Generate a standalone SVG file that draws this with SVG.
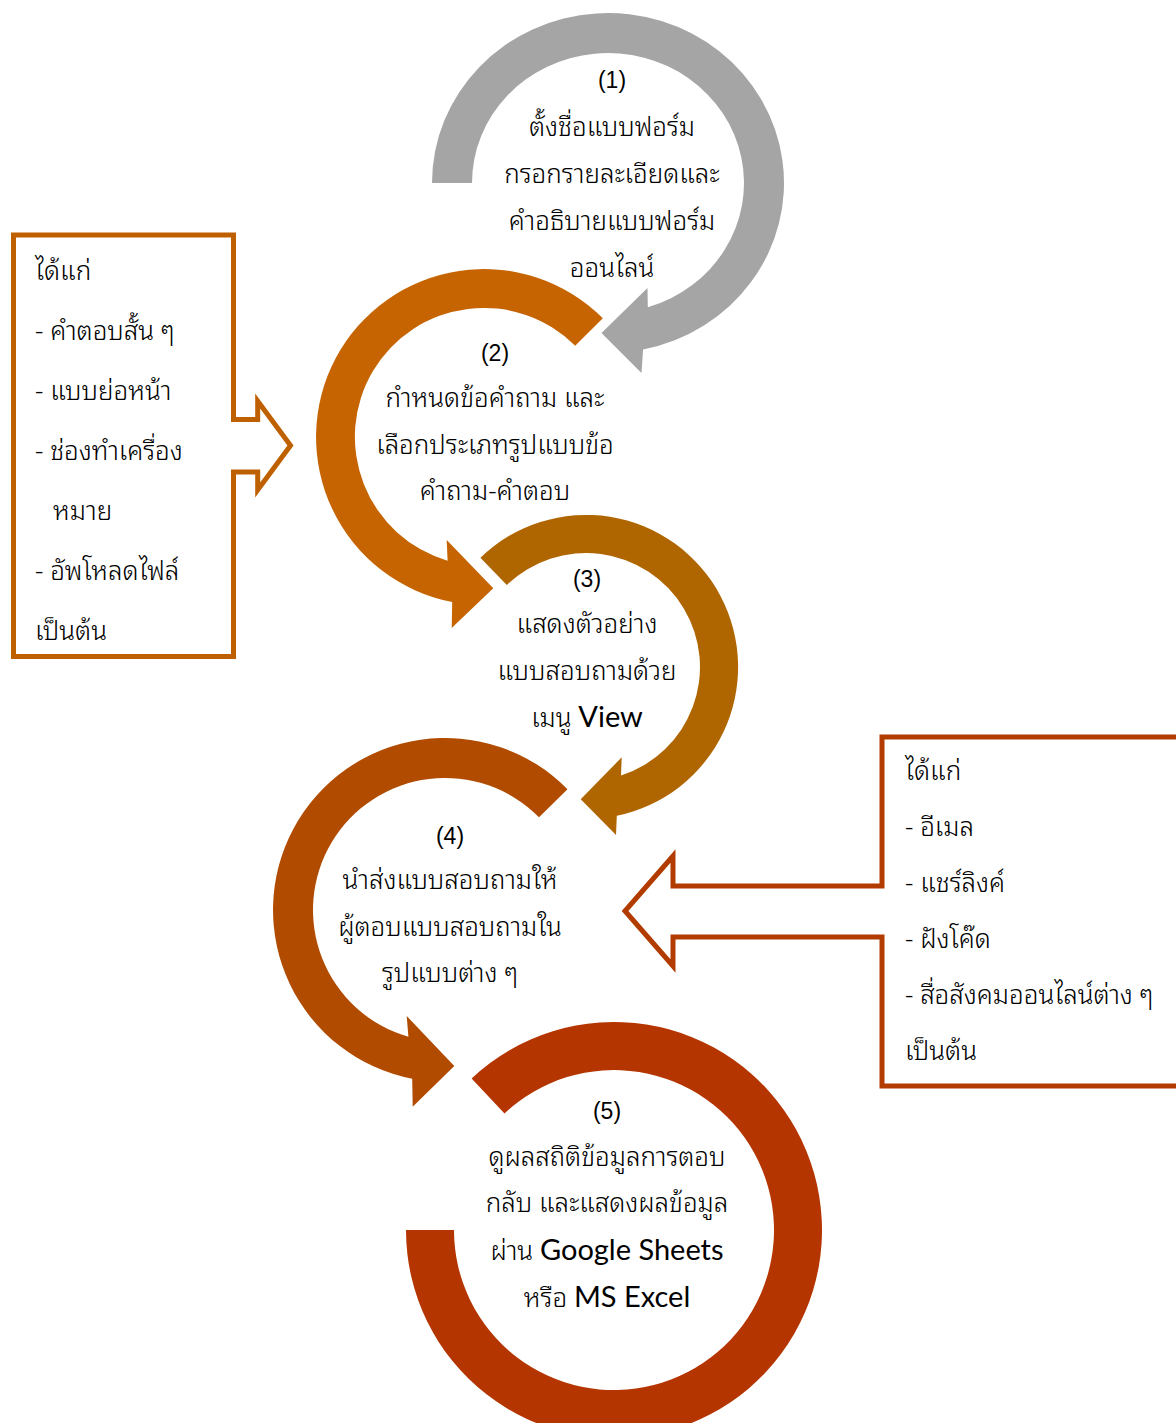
<svg xmlns="http://www.w3.org/2000/svg" width="1176" height="1423" viewBox="0 0 1176 1423">
<style>
.th{font-family:"Noto Sans Thai Looped","Loma","Garuda","Norasi","Noto Serif Thai","Noto Sans Thai","Noto Sans",sans-serif;font-size:26px;font-weight:300;fill:#000;text-anchor:middle}
.tl{font-family:"Noto Sans Thai Looped","Loma","Garuda","Norasi","Noto Serif Thai","Noto Sans Thai","Noto Sans",sans-serif;font-size:26px;font-weight:300;fill:#000}
.num{font-family:"Liberation Sans",Arial,sans-serif;font-size:23px;fill:#000;text-anchor:middle}
.en{font-family:Lato,"Open Sans",sans-serif;font-size:29px;font-weight:400}
.callout{fill:#fff;stroke-width:5;stroke-linejoin:miter}
</style>
<rect width="1176" height="1423" fill="#fff"/>
<g id="connectors"/>
<g id="step1">
<path fill="#A5A5A5" d="M 432,183 A 176 170 0 1 1 643.1,349.6 L 641.5,373 L 601.5,333 L 647.5,288 L 647.8,307.3 A 136 130 0 1 0 472,183 Z"/>
<text class="num" x="612" y="88">(1)</text>
<text class="th" x="612" y="136">ตั้งชื่อแบบฟอร์ม</text>
<text class="th" x="612" y="183">กรอกรายละเอียดและ</text>
<text class="th" x="612" y="230">คำอธิบายแบบฟอร์ม</text>
<text class="th" x="612" y="277">ออนไลน์</text>
</g>
<g id="step2">
<path fill="#C56400" d="M 602.8,318.2 A 168 168 0 1 0 452.2,602.0 L 451.7,628 L 493.3,588.3 L 446.7,540 L 447.6,560.7 A 129 129 0 1 1 575.2,345.8 Z"/>
<text class="num" x="495" y="361">(2)</text>
<text class="th" x="495" y="407">กำหนดข้อคำถาม และ</text>
<text class="th" x="495" y="454">เลือกประเภทรูปแบบข้อ</text>
<text class="th" x="495" y="500">คำถาม-คำตอบ</text>
</g>
<g id="step3">
<path fill="#AF6600" d="M 480.4,557.7 A 152 152 0 1 1 616.8,815.8 L 616,835 L 580.7,799.3 L 621.7,757.3 L 621.0,775.5 A 114 114 0 1 0 506.8,585.0 Z"/>
<text class="num" x="587" y="587">(3)</text>
<text class="th" x="587" y="633">แสดงตัวอย่าง</text>
<text class="th" x="587" y="680">แบบสอบถามด้วย</text>
<text class="th" x="587" y="727">เมนู <tspan class="en">View</tspan></text>
</g>
<g id="step4">
<path fill="#B14B00" d="M 567.5,789.2 A 172 172 0 1 0 412.2,1078.8 L 412.7,1106.7 L 454.3,1066 L 406.7,1016 L 408.4,1036.8 A 132 132 0 1 1 539.0,817.3 Z"/>
<text class="num" x="450" y="844">(4)</text>
<text class="th" x="450" y="889">นำส่งแบบสอบถามให้</text>
<text class="th" x="450" y="936">ผู้ตอบแบบสอบถามใน</text>
<text class="th" x="450" y="982">รูปแบบต่าง ๆ</text>
</g>
<g id="step5">
<path fill="#B53500" d="M 406,1230 A 208 208 0 1 0 471.6,1078.4 L 504.5,1113.4 A 160 160 0 1 1 454,1230 Z"/>
<text class="num" x="607" y="1119">(5)</text>
<text class="th" x="607" y="1166">ดูผลสถิติข้อมูลการตอบ</text>
<text class="th" x="607" y="1212">กลับ และแสดงผลข้อมูล</text>
<text class="th" x="607" y="1260">ผ่าน <tspan class="en">Google Sheets</tspan></text>
<text class="th" x="607" y="1307">หรือ <tspan class="en">MS Excel</tspan></text>
</g>
<g id="callout-left">
<path class="callout" stroke="#BF6000" d="M 13.5,235 L 233.5,235 L 233.5,419.5 L 257.7,419.5 L 257.7,401 L 290.5,445.5 L 257.7,490 L 257.7,472 L 233.5,472 L 233.5,656.5 L 13.5,656.5 Z"/>
<text class="tl" x="35" y="280">ได้แก่</text>
<text class="tl" x="35" y="340">- คำตอบสั้น ๆ</text>
<text class="tl" x="35" y="400">- แบบย่อหน้า</text>
<text class="tl" x="35" y="460">- ช่องทำเครื่อง</text>
<text class="tl" x="53" y="520">หมาย</text>
<text class="tl" x="35" y="580">- อัพโหลดไฟล์</text>
<text class="tl" x="35" y="640">เป็นต้น</text>
</g>
<g id="callout-right">
<path class="callout" stroke="#B23C00" d="M 1185,737 L 882,737 L 882,886 L 673,886 L 673,856 L 625,911 L 673,966 L 673,937 L 882,937 L 882,1086 L 1185,1086"/>
<text class="tl" x="905" y="780">ได้แก่</text>
<text class="tl" x="905" y="836">- อีเมล</text>
<text class="tl" x="905" y="892">- แชร์ลิงค์</text>
<text class="tl" x="905" y="948">- ฝังโค๊ด</text>
<text class="tl" x="905" y="1004">- สื่อสังคมออนไลน์ต่าง ๆ</text>
<text class="tl" x="905" y="1060">เป็นต้น</text>
</g>
</svg>
